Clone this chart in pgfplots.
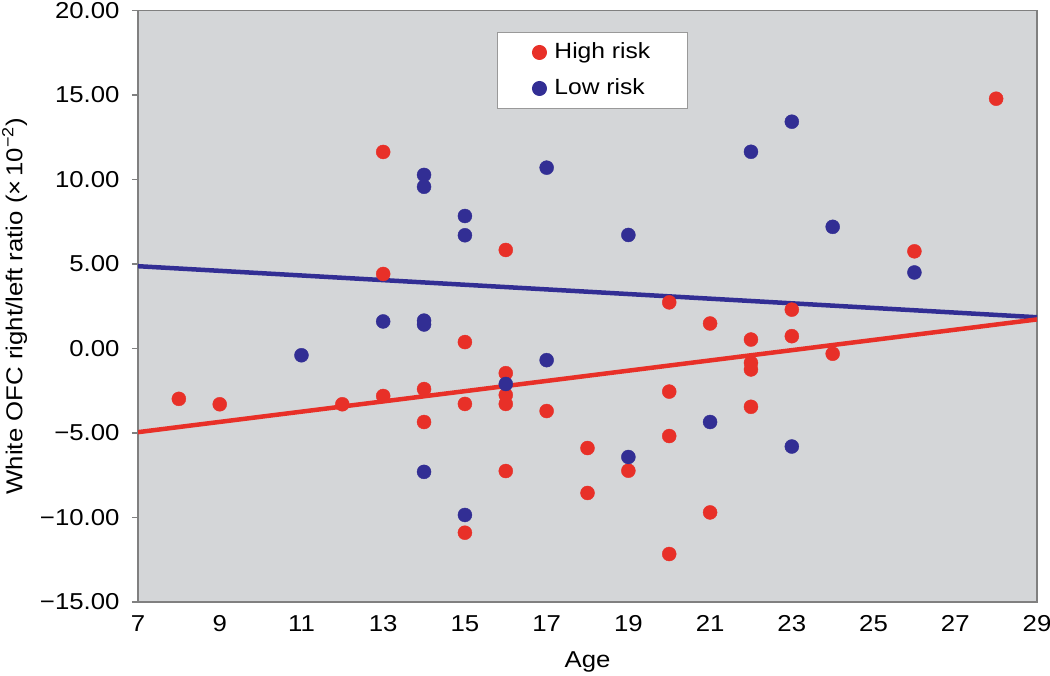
\documentclass[border=0pt]{standalone}
\usepackage{pgfplots}
\pgfplotsset{compat=1.18}
\usepackage{fontspec}
\setmainfont[FakeStretch=1.12]{Liberation Sans}
\definecolor{hired}{RGB}{232,48,40}
\definecolor{loblue}{RGB}{50,46,148}
\definecolor{bg}{RGB}{212,214,216}
\begin{document}
\begin{tikzpicture}[x=1pt,y=1pt,font=\fontsize{23}{27}\selectfont]
\path[use as bounding box] (0,0) rectangle (1050,675);
\begin{axis}[
  at={(138pt,73pt)}, anchor=south west,
  scale only axis, width=899pt, height=591.5pt,
  xmin=7, xmax=29, ymin=-15, ymax=20,
  xtick={7,9,...,29},
  xticklabels={7,9,11,13,15,17,19,21,23,25,27,29},
  ytick={-15,-10,...,20},
  yticklabels={−15.00,−10.00,−5.00,0.00,5.00,10.00,15.00,20.00},
  tick pos=left, tick align=outside,
  major tick length=6pt,
  xtick style={draw=none},
  ytick style={draw=black!50, line width=1.5pt},
  xticklabel style={font=\fontsize{23}{27}\selectfont, yshift=-4pt},
  yticklabel style={font=\fontsize{23}{27}\selectfont, xshift=-9pt},
  axis line style={draw=black!50, line width=1.5pt},
  axis background/.style={fill=bg},
  xlabel={Age},
  every axis x label/.style={at={(axis description cs:0.5,0)}, anchor=base, yshift=-65pt, font=\fontsize{23}{27}\selectfont},
  ylabel={White OFC right/left ratio (×\,10\textsuperscript{−2})},
  every axis y label/.style={at={(axis description cs:-0.1285,0.5)}, rotate=90, anchor=base, font=\fontsize{23}{27}\selectfont},
  legend style={at={(axis description cs:0.3993,0.9637)}, anchor=north west,
    draw=black!40, line width=1pt, fill=white,
    inner xsep=35pt, inner ysep=8pt, row sep=12pt, column sep=6pt,
    font=\fontsize{22}{26}\selectfont,
    nodes={text height=16pt, text depth=4pt}},
  legend cell align=left,
  legend image code/.code={\draw[#1, mark size=7pt] plot coordinates {(0pt,0pt)};},
]
\addplot[only marks, mark=*, mark size=7pt, color=hired, draw=none] coordinates {
(8,-2.98) (9,-3.30) (12,-3.30) (13,11.63) (13,4.41) (13,-2.81)
(14,-2.40) (14,-4.35) (15,0.38) (15,-3.28) (15,-10.90)
(16,5.83) (16,-1.46) (16,-2.75) (16,-3.28) (16,-7.25)
(17,-3.70) (18,-5.89) (18,-8.55) (19,-7.23)
(20,2.73) (20,-2.55) (20,-5.18) (20,-12.16)
(21,1.48) (21,-9.70) (22,0.53) (22,-0.85) (22,-1.24) (22,-3.45)
(23,2.30) (23,0.73) (24,-0.31) (26,5.75) (28,14.78)
};
\addlegendentry{High risk}
\addplot[only marks, mark=*, mark size=7pt, color=loblue, draw=none] coordinates {
(11,-0.40) (13,1.60) (14,10.27) (14,9.57) (14,1.65) (14,1.42) (14,-7.30)
(15,7.84) (15,6.70) (15,-9.85) (16,-2.10) (17,10.70) (17,-0.69)
(19,6.72) (19,-6.42) (21,-4.35) (22,11.64) (23,13.42) (23,-5.80)
(24,7.20) (26,4.50)
};
\addlegendentry{Low risk}
\addplot[loblue, line width=4.5pt, forget plot] coordinates {(7,4.87) (29,1.85)};
\addplot[hired, line width=4.5pt, forget plot] coordinates {(7,-4.95) (29,1.72)};
\end{axis}
\end{tikzpicture}
\end{document}
